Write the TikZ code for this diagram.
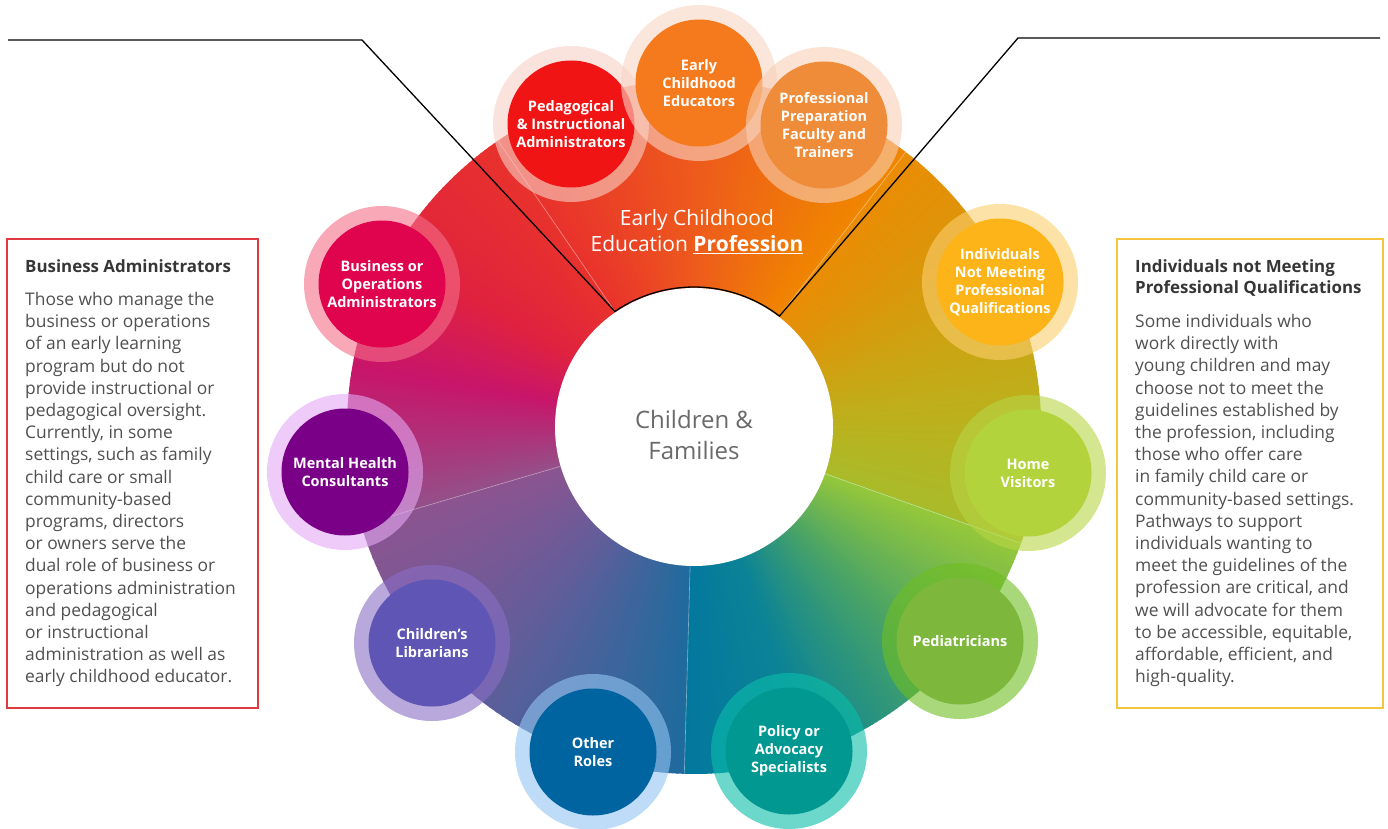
\documentclass[tikz,border=0pt]{standalone}
\usepackage{fontspec}
\setmainfont{Open Sans}
\usetikzlibrary{calc}

\definecolor{wa}{HTML}{A9BB2A}
\definecolor{wb}{HTML}{BAB21E}
\definecolor{wc}{HTML}{CDA312}
\definecolor{wd}{HTML}{E09308}
\definecolor{we}{HTML}{EA8C04}
\definecolor{wf}{HTML}{F08600}
\definecolor{wg}{HTML}{EE5A1C}
\definecolor{wh}{HTML}{E8322C}
\definecolor{wi}{HTML}{E0223F}
\definecolor{wj}{HTML}{C8156A}
\definecolor{wk}{HTML}{945089}
\definecolor{wl}{HTML}{8C5490}
\definecolor{wm}{HTML}{625D9A}
\definecolor{wn}{HTML}{1F6B9D}
\definecolor{wo}{HTML}{03789E}
\definecolor{wp}{HTML}{0C8396}
\definecolor{wq}{HTML}{4AA466}
\definecolor{wr}{HTML}{96C83A}
\definecolor{pedfill}{HTML}{F01414}  \definecolor{pedring}{HTML}{F8D0C6}
\definecolor{ecefill}{HTML}{F57A1E}  \definecolor{ecering}{HTML}{F9D5C5}
\definecolor{prepfill}{HTML}{EE8C3A} \definecolor{prepring}{HTML}{F8CFB4}
\definecolor{bizfill}{HTML}{E0044E}  \definecolor{bizring}{HTML}{F56E89}
\definecolor{mhfill}{HTML}{7A0088}   \definecolor{mhring}{HTML}{E3A8F3}
\definecolor{libfill}{HTML}{5E55B4}  \definecolor{libring}{HTML}{896EC5}
\definecolor{othfill}{HTML}{0064A0}  \definecolor{othring}{HTML}{93C5F3}
\definecolor{polfill}{HTML}{009890}  \definecolor{polring}{HTML}{0ABEAA}
\definecolor{pedifill}{HTML}{7DB83C} \definecolor{pediring}{HTML}{6EBE21}
\definecolor{homefill}{HTML}{B3D33C} \definecolor{homering}{HTML}{B7D546}
\definecolor{indfill}{HTML}{FDB418}  \definecolor{indring}{HTML}{FCCF6E}
\definecolor{hubgray}{HTML}{6A6A6A}
\definecolor{titlegray}{HTML}{363636}
\definecolor{bodygray}{HTML}{505050}
\definecolor{bizred}{HTML}{DF3A3F}
\definecolor{indyellow}{HTML}{F5C540}

\begin{document}
\begin{tikzpicture}[x=1pt,y=-1pt,
  role/.style={circle,minimum size=127,inner sep=0,text=white,align=center,font=\bfseries\fontsize{14.5}{18}\selectfont},
  halo/.style={fill opacity=0.6},
  boxtitle/.style={anchor=north west,inner sep=0,align=left,text=titlegray,font=\bfseries\fontsize{16.9}{21.5}\selectfont},
  boxtext/.style={anchor=north west,inner sep=0,align=left,text=bodygray,font=\fontsize{17.4}{22.2}\selectfont}]
\useasboundingbox (0,0) rectangle (1388,829);
\coordinate (c0) at (694,427);
\foreach \a/\b/\ca/\cb in {-19.6/0/wa/wb,0/20/wb/wc,20/40/wc/wd,40/52.4/wd/we,52.4/90/wf/wg,90/124.4/wg/wh,124.4/150/wh/wi,150/170/wi/wj,170/196.4/wj/wk,196.4/230/wl/wm,230/268.4/wm/wn,268.4/290/wo/wp,290/315/wp/wq,315/340.4/wq/wr}{
  \foreach \k in {0,...,29}{
    \pgfmathsetmacro\s{\a+(\b-\a)*\k/30}
    \pgfmathsetmacro\e{\a+(\b-\a)*(\k+1)/30+0.2}
    \pgfmathsetmacro\p{(\k+0.5)*100/30}
    \fill[\cb!\p!\ca] (c0) -- ($(c0)+(-\s:347)$) -- ($(c0)+(-\e:347)$) -- cycle;
  }
}
\foreach \t in {52.4,124.4,196.4,268.4,340.4}
  \draw[white,opacity=0.45,line width=0.6] ($(c0)+(-\t:139)$) -- ($(c0)+(-\t:347)$);
\node[circle,fill=white,minimum size=278,inner sep=0] (hub) at (c0) {};
\node[text=hubgray,align=center,font=\fontsize{24}{31}\selectfont] (hubtext) at ([yshift=-8]hub.center) {Children \&\\Families};
\node[text=white,align=center,font=\fontsize{21}{26}\selectfont] (proflabel) at (697,232) {Early Childhood\\Education \underline{\textbf{Profession}}};

\coordinate (ltip) at (8,40);
\coordinate (lknee) at (362,40);
\coordinate (rknee) at (1018,38);
\coordinate (rtip) at (1380,38);
\draw[line width=1.3] (ltip) -- (lknee) -- ($(c0)+(-124.4:140)$) arc[start angle=-124.4,end angle=-52.4,radius=140] -- (rknee) -- (rtip);

\fill[halo,bizring] (382,284) circle (78);
\node[role,fill=bizfill] (biz) at (382,284) {Business or\\Operations\\Administrators};
\fill[halo,mhring] (345,472) circle (78);
\node[role,fill=mhfill] (mh) at (345,472) {Mental Health\\Consultants};
\fill[halo,libring] (432,643) circle (78);
\node[role,fill=libfill] (lib) at (432,643) {Children’s\\Librarians};
\fill[halo,othring] (593,752) circle (78);
\node[role,fill=othfill] (oth) at (593,752) {Other\\Roles};
\fill[halo,polring] (789,751) circle (78);
\node[role,fill=polfill] (pol) at (789,751) {Policy or\\Advocacy\\Specialists};
\fill[halo,pediring] (960,641) circle (78);
\node[role,fill=pedifill] (pedi) at (960,641) {Pediatricians};
\fill[halo,homering] (1028,473) circle (78);
\node[role,fill=homefill] (home) at (1028,473) {Home\\Visitors};
\fill[halo,indring] (1000,282) circle (78);
\node[role,fill=indfill] (ind) at (1000,282) {Individuals\\Not Meeting\\Professional\\Qualifications};
\fill[halo,pedring] (571,124) circle (78);
\node[role,fill=pedfill] (ped) at (571,124) {Pedagogical\\\& Instructional\\Administrators};
\fill[halo,ecering] (699,83) circle (78);
\node[role,fill=ecefill] (ece) at (699,83) {Early\\Childhood\\Educators};
\fill[halo,prepring] (824,125) circle (78);
\node[role,fill=prepfill] (prep) at (824,125) {Professional\\Preparation\\Faculty and\\Trainers};

\node[draw=bizred,line width=1.5,minimum width=251,minimum height=469,anchor=north west,inner sep=0] (bizbox) at (6,238) {};
\node[boxtitle] (bizttl) at (25,259) {Business Administrators};
\node[boxtext] (biztxt) at (25,292) {Those who manage the\\business or operations\\of an early learning\\program but do not\\provide instructional or\\pedagogical oversight.\\Currently, in some\\settings, such as family\\child care or small\\community-based\\programs, directors\\or owners serve the\\dual role of business or\\operations administration\\and pedagogical\\or instructional\\administration as well as\\early childhood educator.};
\node[draw=indyellow,line width=1.5,minimum width=266,minimum height=469,anchor=north west,inner sep=0] (indbox) at (1116,238) {};
\node[boxtitle] (indttl) at (1135,259) {Individuals not Meeting\\Professional Qualifications};
\node[boxtext] (indtxt) at (1135,314) {Some individuals who\\work directly with\\young children and may\\choose not to meet the\\guidelines established by\\the profession, including\\those who offer care\\in family child care or\\community-based settings.\\Pathways to support\\individuals wanting to\\meet the guidelines of the\\profession are critical, and\\we will advocate for them\\to be accessible, equitable,\\affordable, efficient, and\\high-quality.};
\end{tikzpicture}
\end{document}
